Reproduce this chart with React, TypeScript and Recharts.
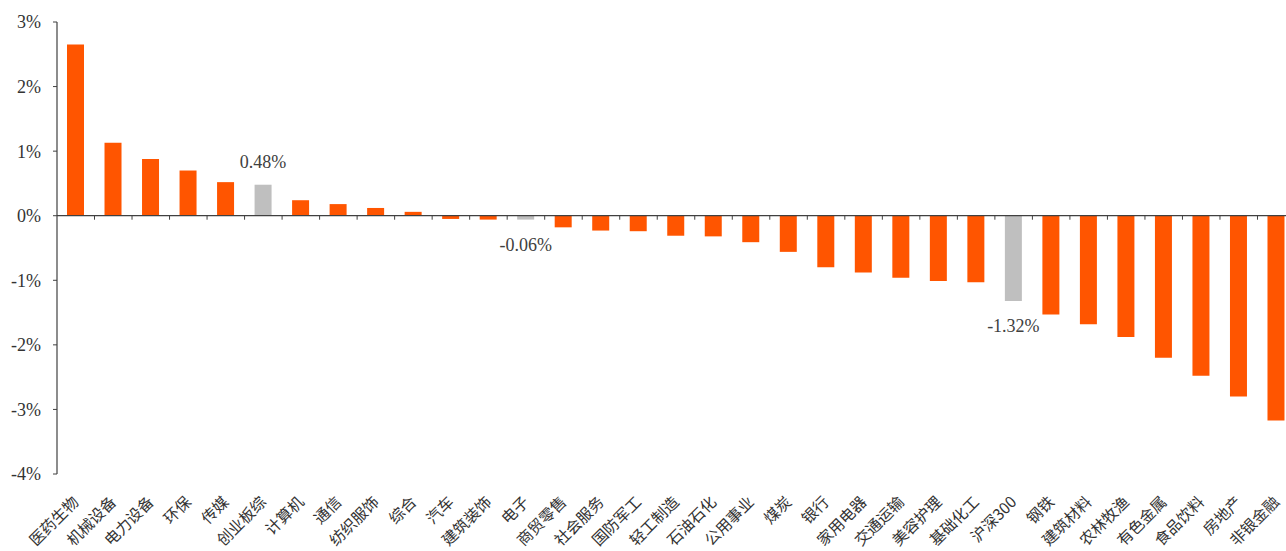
import { BarChart, Bar, XAxis, YAxis, Cell, LabelList, ReferenceLine } from "recharts";

const categories = [
    "医药生物", "机械设备", "电力设备", "环保", "传媒", "创业板综", "计算机", "通信",
    "纺织服饰", "综合", "汽车", "建筑装饰", "电子", "商贸零售", "社会服务", "国防军工",
    "轻工制造", "石油石化", "公用事业", "煤炭", "银行", "家用电器", "交通运输", "美容护理",
    "基础化工", "沪深300", "钢铁", "建筑材料", "农林牧渔", "有色金属", "食品饮料", "房地产", "非银金融",
];

const returns = [
    2.65, 1.13, 0.88, 0.70, 0.52, 0.48, 0.24, 0.18,
    0.12, 0.06, -0.05, -0.06, -0.06, -0.18, -0.23, -0.24,
    -0.31, -0.32, -0.41, -0.56, -0.80, -0.88, -0.96, -1.01,
    -1.03, -1.32, -1.53, -1.68, -1.88, -2.20, -2.48, -2.80, -3.17,
];

// bars shown in grey, with their value written next to them
const highlighted = ["创业板综", "电子", "沪深300"];

const yTicks = [3, 2, 1, 0, -1, -2, -3, -4];

const ORANGE = "#FF5500";
const GREY = "#BFBFBF";
const AXIS = "#404040";

const data = categories.map((name, i) => ({
    name,
    value: returns[i],
    note: highlighted.includes(name) ? returns[i] : null,
}));

const CategoryTick = (props: any) => {
    const { x, y, payload } = props;
    return (
        <g transform={`translate(${x + 4},${y + 21})`}>
            <text
                textAnchor="end"
                transform="rotate(-45)"
                fontSize={15.5}
                fill="#333"
                fontFamily="'Noto Sans CJK SC', sans-serif"
            >
                {payload.value}
            </text>
        </g>
    );
};

// zero line with small marks between categories
const ZeroAxis = (props: any) => {
    const { x1, x2, y1 } = props;
    const band = (x2 - x1) / categories.length;
    const marks = categories.slice(1).map((_, i) => x1 + band * (i + 1));
    return (
        <g>
            <line x1={x1} x2={x2} y1={y1} y2={y1} stroke={AXIS} strokeWidth={1.2} />
            {marks.map((mx, i) => (
                <line key={i} x1={mx} x2={mx} y1={y1} y2={y1 + 4} stroke={AXIS} strokeWidth={1} />
            ))}
        </g>
    );
};

const NoteLabel = (props: any) => {
    const { x, y, width, height, value } = props;
    if (value === null || value === undefined) return null;
    const cx = x + width / 2;
    const top = Math.min(y, y + height);
    const bottom = Math.max(y, y + height);
    const ty = value >= 0 ? top - 17 : bottom + 31;
    return (
        <text
            x={cx}
            y={ty}
            textAnchor="middle"
            fontSize={18}
            fill="#404040"
            fontFamily="'Liberation Serif', serif"
        >
            {`${value.toFixed(2)}%`}
        </text>
    );
};

export default function App() {
    return (
        <div style={{ position: "fixed", left: 0, top: 0, width: 1286, height: 551, overflow: "hidden", background: "#fff" }}>
            <BarChart
                width={1300}
                height={551}
                data={data}
                margin={{ top: 22, right: 5, bottom: 0, left: 0 }}
                barSize={17}
            >
                <XAxis
                    dataKey="name"
                    interval={0}
                    axisLine={false}
                    tickLine={false}
                    height={77}
                    tick={<CategoryTick />}
                />
                <YAxis
                    width={57}
                    domain={[-4, 3]}
                    ticks={yTicks}
                    interval={0}
                    tickFormatter={(v: number) => `${v}%`}
                    axisLine={{ stroke: AXIS, strokeWidth: 1.2 }}
                    tickLine={{ stroke: AXIS }}
                    tickSize={4}
                    tickMargin={12}
                    tick={{ fontSize: 18, fill: "#333", fontFamily: "'Liberation Serif', serif" }}
                />
                <ReferenceLine y={0} shape={<ZeroAxis />} />
                <Bar dataKey="value" isAnimationActive={false}>
                    {data.map((d, i) => (
                        <Cell key={`cell-${i}`} fill={d.note !== null ? GREY : ORANGE} />
                    ))}
                    <LabelList dataKey="note" content={<NoteLabel />} />
                </Bar>
            </BarChart>
        </div>
    );
}
